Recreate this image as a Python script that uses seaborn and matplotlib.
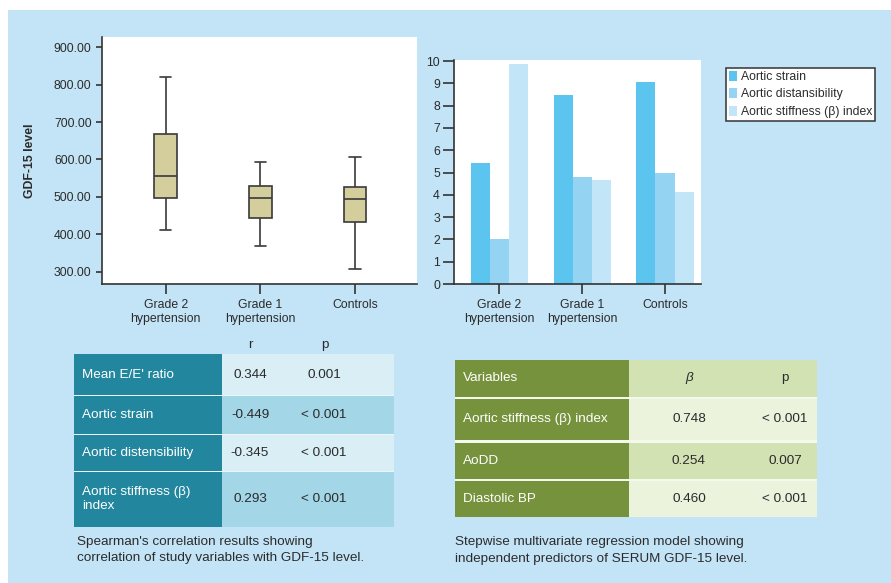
import matplotlib
matplotlib.use("Agg")
import numpy as np
import pandas as pd
import matplotlib.pyplot as plt
from matplotlib.patches import Rectangle
import seaborn as sns

# ---------------- data ----------------
groups = ["Grade 2\nhypertension", "Grade 1\nhypertension", "Controls"]

# GDF-15 level summaries per group: min, Q1, median, Q3, max
gdf15_grade2 = [410, 498, 557, 668, 820]
gdf15_grade1 = [369, 443, 498, 530, 592]
gdf15_controls = [306, 434, 493, 525, 606]
gdf15_ticks = [300, 400, 500, 600, 700, 800, 900]

series_names = ["Aortic strain", "Aortic distansibility", "Aortic stiffness (β) index"]
aortic_strain = [5.42, 8.47, 9.05]
aortic_distensibility = [2.03, 4.78, 4.97]
aortic_stiffness = [9.88, 4.66, 4.13]
bar_ticks = list(range(0, 11))

corr_vars = ["Mean E/E' ratio", "Aortic strain", "Aortic distensibility",
             "Aortic stiffness (β)\nindex"]
corr_r = ["0.344", "-0.449", "-0.345", "0.293"]
corr_p = ["0.001", "< 0.001", "< 0.001", "< 0.001"]
corr_caption = ["Spearman's correlation results showing",
                "correlation of study variables with GDF-15 level."]

reg_vars = ["Aortic stiffness (β) index", "AoDD", "Diastolic BP"]
reg_beta = ["0.748", "0.254", "0.460"]
reg_p = ["< 0.001", "0.007", "< 0.001"]
reg_caption = ["Stepwise multivariate regression model showing",
               "independent predictors of SERUM GDF-15 level."]

# ---------------- style ----------------
sns.set_theme(style="ticks")
plt.rcParams["font.family"] = ["Liberation Sans", "DejaVu Sans"]

BG = "#C3E4F6"
INK = "#2B2B2B"
AX_INK = "#333333"
BOX_FILL = "#D4CD9C"
BAR_COLORS = ["#5BC5F0", "#95D3F2", "#C2E5F7"]
TEAL = "#22879E"
TEAL_LIGHT = "#DAEEF6"
TEAL_MID = "#A3D6E6"
OLIVE = "#76923C"
OLIVE_MID = "#D2E2B3"
OLIVE_LIGHT = "#EBF3DD"
TICK_FS = 8.8
TABLE_FS = 9.7

W, H = 891, 583
fig = plt.figure(figsize=(W / 100, H / 100), dpi=100)
fig.patch.set_facecolor("white")


def px_axes(x0, y0, x1, y1, **kw):
    return fig.add_axes([x0 / W, 1 - y1 / H, (x1 - x0) / W, (y1 - y0) / H], **kw)


# page background and tables live on a full-figure pixel canvas
bg = px_axes(0, 0, W, H)
bg.set_zorder(0)
bg.set_xlim(0, W)
bg.set_ylim(H, 0)
bg.axis("off")
bg.add_patch(Rectangle((8, 9.5), W - 8, H - 9.5, color=BG, lw=0))


def style_axes(ax, ylen, ypad):
    ax.set_facecolor("white")
    for side in ("top", "right"):
        ax.spines[side].set_visible(False)
    for side in ("left", "bottom"):
        ax.spines[side].set_color(AX_INK)
        ax.spines[side].set_linewidth(1.2)
    ax.tick_params(axis="both", direction="out", width=1.2,
                   color=AX_INK, labelcolor=INK, labelsize=TICK_FS)
    ax.tick_params(axis="x", length=7, pad=4)
    ax.tick_params(axis="y", length=ylen, pad=ypad)
    ax.set_xlabel("")


# ---------------- box plot ----------------
ax1 = px_axes(101.7, 36.7, 417, 284)
ax1.set_zorder(2)
box_df = pd.DataFrame({
    "group": np.repeat(groups, 5),
    "gdf15": gdf15_grade2 + gdf15_grade1 + gdf15_controls,
})
sns.boxplot(data=box_df, x="group", y="gdf15", order=groups, ax=ax1,
            color=BOX_FILL, saturation=1, width=0.24, whis=(0, 100),
            linecolor="#3A3A3A", linewidth=1.2, showfliers=False)
style_axes(ax1, ylen=4.3, ypad=3)
ax1.set_xlim(-0.676, 2.655)
ax1.set_ylim(267, 928)
ax1.set_yticks(gdf15_ticks)
ax1.set_yticklabels([f"{v:.2f}" for v in gdf15_ticks])
ax1.set_ylabel("GDF-15 level", fontsize=TICK_FS, fontweight="bold", color=INK)
ax1.yaxis.set_label_coords(-0.209, 0.5)

# ---------------- grouped bars ----------------
ax2 = px_axes(454, 60, 700.7, 284)
ax2.set_zorder(2)
bar_df = pd.DataFrame({
    "group": groups * 3,
    "measure": np.repeat(series_names, 3),
    "value": aortic_strain + aortic_distensibility + aortic_stiffness,
})
sns.barplot(data=bar_df, x="group", y="value", hue="measure", order=groups,
            hue_order=series_names, palette=BAR_COLORS, saturation=1,
            width=0.69, errorbar=None, linewidth=0, ax=ax2)
style_axes(ax2, ylen=7.7, ypad=2.4)
ax2.set_ylabel("")
ax2.set_xlim(-0.547, 2.431)
ax2.set_ylim(0, 10.045)
ax2.set_yticks(bar_ticks)
handles, labels = ax2.get_legend_handles_labels()
if ax2.get_legend() is not None:
    ax2.get_legend().remove()
leg = ax2.legend(handles, labels, loc="upper left",
                 bbox_to_anchor=(725.7 / W, 1 - 67.7 / H),
                 bbox_transform=fig.transFigure, borderaxespad=0,
                 fontsize=TICK_FS, frameon=True, fancybox=False,
                 handlelength=0.7, handleheight=0.9, handletextpad=0.3,
                 labelspacing=0.42, borderpad=0.25)
leg.get_frame().set_edgecolor("#333333")
leg.get_frame().set_linewidth(1.1)
leg.get_frame().set_facecolor("white")
leg.get_frame().set_alpha(1)
for t in leg.get_texts():
    t.set_color(INK)

# ---------------- correlation table ----------------
c_x0, c_split, c_x1 = 74, 221.7, 394
c_rows = [(354, 395), (396.3, 433.7), (435, 470.7), (472, 526.7)]
c_fills = [TEAL_LIGHT, TEAL_MID, TEAL_LIGHT, TEAL_MID]
bg.add_patch(Rectangle((c_x0, c_rows[0][0]), c_x1 - c_x0,
                       c_rows[-1][1] - c_rows[0][0], color="#EAF6FB", lw=0))
bg.text(250, 345, "r", ha="center", va="center", fontsize=TABLE_FS, color=INK)
bg.text(325, 345, "p", ha="center", va="center", fontsize=TABLE_FS, color=INK)
for (top, bot), fill, name, r, p in zip(c_rows, c_fills, corr_vars, corr_r, corr_p):
    bg.add_patch(Rectangle((c_x0, top), c_split - c_x0, bot - top, color=TEAL, lw=0))
    bg.add_patch(Rectangle((c_split, top), c_x1 - c_split, bot - top, color=fill, lw=0))
    yc = (top + bot) / 2
    bg.text(82, yc, name, ha="left", va="center", fontsize=TABLE_FS,
            color="white", linespacing=1.2)
    bg.text(250, yc, r, ha="center", va="center", fontsize=TABLE_FS, color=INK)
    bg.text(324, yc, p, ha="center", va="center", fontsize=TABLE_FS, color=INK)
for i, line in enumerate(corr_caption):
    bg.text(77, 541.7 + 16 * i, line, ha="left", va="center",
            fontsize=TABLE_FS, color=INK)

# ---------------- regression table ----------------
r_x0, r_split, r_x1 = 455, 629, 817
r_rows = [(360, 396.7), (398.7, 440), (442.7, 479.3), (480.7, 517.3)]
r_fills = [OLIVE_MID, OLIVE_LIGHT, OLIVE_MID, OLIVE_LIGHT]
bg.add_patch(Rectangle((r_x0, r_rows[0][0]), r_x1 - r_x0,
                       r_rows[-1][1] - r_rows[0][0], color="#F4F9EE", lw=0))
r_cells = [("Variables", "β", "p")] + list(zip(reg_vars, reg_beta, reg_p))
for i, ((top, bot), fill, (name, b, p)) in enumerate(zip(r_rows, r_fills, r_cells)):
    bg.add_patch(Rectangle((r_x0, top), r_split - r_x0, bot - top, color=OLIVE, lw=0))
    bg.add_patch(Rectangle((r_split, top), r_x1 - r_split, bot - top, color=fill, lw=0))
    yc = (top + bot) / 2
    bg.text(463, yc, name, ha="left", va="center", fontsize=TABLE_FS, color="white")
    bg.text(689, yc, b, ha="center", va="center", fontsize=TABLE_FS, color=INK,
            style="italic" if i == 0 else "normal")
    bg.text(785, yc, p, ha="center", va="center", fontsize=TABLE_FS, color=INK)
for i, line in enumerate(reg_caption):
    bg.text(455, 542 + 17 * i, line, ha="left", va="center",
            fontsize=TABLE_FS, color=INK)

fig.savefig("out.png", dpi=100, facecolor=fig.get_facecolor())
